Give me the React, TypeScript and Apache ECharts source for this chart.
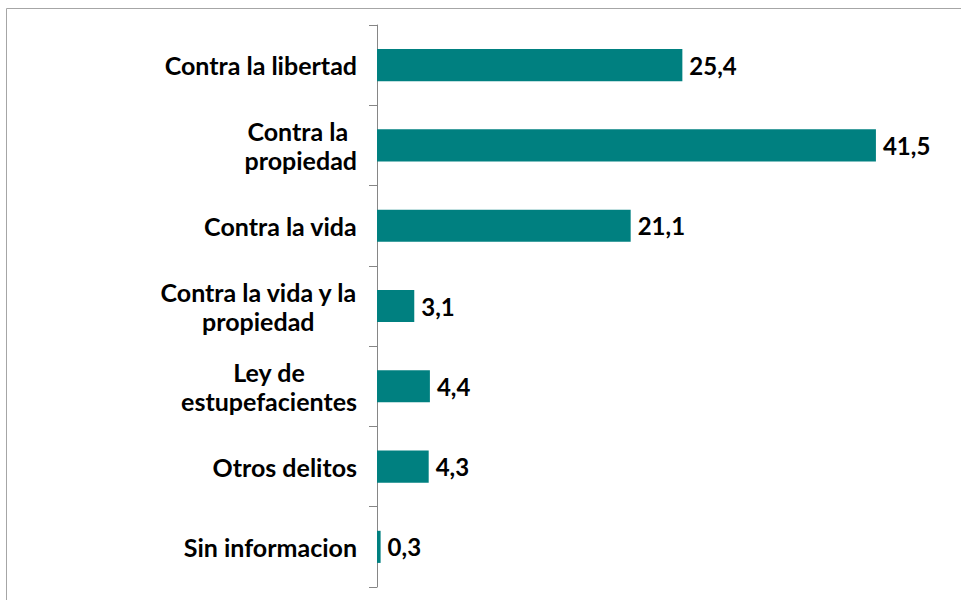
import React, { useEffect, useRef } from "react";
import * as echarts from "echarts";

const categories = [
  "Contra la libertad",
  "Contra la \npropiedad",
  "Contra la vida",
  "Contra la vida y la\npropiedad",
  "Ley de\nestupefacientes",
  "Otros delitos",
  "Sin informacion",
];
const values = [25.4, 41.5, 21.1, 3.1, 4.4, 4.3, 0.3];

const FONT = "Lato, 'Open Sans', sans-serif";

export default function App() {
  const ref = useRef<HTMLDivElement>(null);
  useEffect(() => {
    if (!ref.current) return;
    const chart = echarts.init(ref.current, null, { renderer: "svg" });
    chart.setOption({
      animation: false,
      backgroundColor: "#ffffff",
      graphic: [
        {
          type: "rect",
          shape: { x: 6.5, y: 8.5, width: 1100, height: 800 },
          style: { fill: "none", stroke: "#a6a6a6", lineWidth: 1 },
          silent: true,
        },
      ],
      grid: { left: 377, top: 25, height: 562, width: 541, containLabel: false },
      xAxis: {
        type: "value",
        min: 0,
        max: 45,
        show: false,
      },
      yAxis: {
        type: "category",
        inverse: true,
        data: categories,
        axisLine: { show: true, lineStyle: { color: "#868686", width: 1 } },
        axisTick: { show: true, length: 8, inside: false, alignWithLabel: false, lineStyle: { color: "#868686" } },
        splitLine: { show: false },
        axisLabel: {
          margin: 20,
          formatter: (v: string) =>
            v
              .split("\n")
              .map((l) => `{c|${l}}`)
              .join("\n"),
          rich: {
            c: {
              fontFamily: FONT,
              fontWeight: "bold",
              fontSize: 25,
              color: "#000000",
              align: "center",
              lineHeight: 29,
            },
          },
        },
      },
      series: [
        {
          type: "bar",
          data: values,
          barCategoryGap: "60%",
          itemStyle: { color: "#008080" },
          label: {
            show: true,
            position: "right",
            distance: 7,
            fontFamily: FONT,
            fontWeight: "bold",
            fontSize: 24,
            color: "#000000",
            formatter: (p: any) => String(p.value.toFixed(1)).replace(".", ","),
          },
        },
      ],
    });
    return () => chart.dispose();
  }, []);
  return (
    <div
      ref={ref}
      style={{ position: "fixed", left: 0, top: 0, width: 961, height: 600 }}
    />
  );
}
